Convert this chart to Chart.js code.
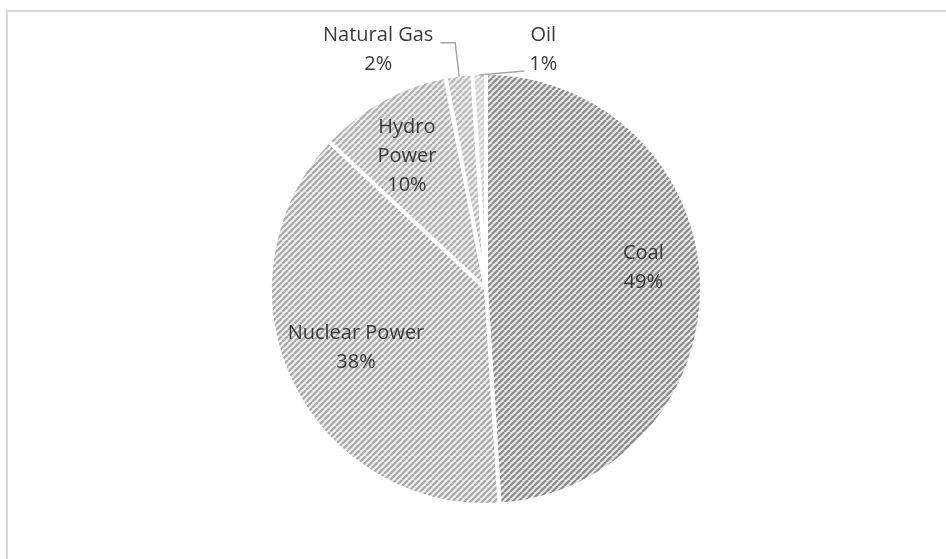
<!DOCTYPE html>
<html>
<head>
<meta charset="utf-8">
<title>Electricity generation by source</title>
<script src="https://cdn.jsdelivr.net/npm/chart.js@4.4.1/dist/chart.umd.min.js"></script>
<style>
    html, body { margin: 0; padding: 0; background: #fff; overflow: hidden; }
    #frame {
        position: absolute; left: 6px; top: 10px;
        width: 1000px; height: 1000px;
        border-left: 2px solid #d9d9d9; border-top: 2px solid #d9d9d9;
    }
    #chart { position: absolute; left: 0; top: 0; }
</style>
</head>
<body>
<div id="frame"></div>
<canvas id="chart" width="946" height="559"></canvas>
<script>
// --- DATA ---
const categories = ['Coal', 'Nuclear Power', 'Hydro Power', 'Natural Gas', 'Oil'];
const shares = [49, 38, 10, 2, 1];

// stripe colours per slice: [stripe, background]
const stripeColors = [
    ['#8e8e8e', '#ececec'],
    ['#ababab', '#f3f3f3'],
    ['#b3b3b3', '#f0f0f0'],
    ['#bababa', '#f1f1f1'],
    ['#cfcfcf', '#efefef']
];

// label placement around each slice (inside ones by radius fraction, outside ones with leader lines)
const labelLayout = [
    { r: 0.735, shift: -6 },
    { r: 0.66, shift: 1 },
    { r: 0.715, shift: -2, wrap: true },
    { outside: true, dx: -81, dy: -27, leader: 'up' },
    { outside: true, dx: 64, dy: -25, leader: 'side' }
];

// --- PATTERNS ---
function makeStripes(fg, bg, period) {
    const c = document.createElement('canvas');
    c.width = period;
    c.height = period;
    const g = c.getContext('2d');
    g.fillStyle = bg;
    g.fillRect(0, 0, period, period);
    g.strokeStyle = fg;
    g.lineWidth = period * 0.4;
    [-period, 0, period].forEach(off => {
        g.beginPath();
        g.moveTo(off, period);
        g.lineTo(off + period, 0);
        g.stroke();
    });
    return g.createPattern(c, 'repeat');
}

// --- LABELS ---
const sliceLabels = {
    id: 'sliceLabels',
    afterDatasetsDraw(chart) {
        const ctx = chart.ctx;
        const meta = chart.getDatasetMeta(0);
        const lineH = 29;
        ctx.save();
        ctx.font = '20px "Open Sans"';
        ctx.fillStyle = '#3a3a3a';
        ctx.textAlign = 'center';
        ctx.textBaseline = 'middle';

        meta.data.forEach((arc, i) => {
            const p = arc.getProps(['x', 'y', 'startAngle', 'endAngle', 'outerRadius'], true);
            const lay = labelLayout[i];
            const mid = (p.startAngle + p.endAngle) / 2 + (lay.shift || 0) * Math.PI / 180;
            const name = categories[i];
            const lines = (lay.wrap ? name.split(' ') : [name]).concat([shares[i] + '%']);
            let lx, ly;

            if (!lay.outside) {
                lx = p.x + Math.cos(mid) * p.outerRadius * lay.r;
                ly = p.y + Math.sin(mid) * p.outerRadius * lay.r;
            } else {
                const r = p.outerRadius - 2;
                const ex = p.x + Math.cos(mid) * r;
                const ey = p.y + Math.sin(mid) * r;
                lx = ex + lay.dx;
                ly = ey + lay.dy;
                const half = Math.max(...lines.map(t => ctx.measureText(t).width)) / 2;

                ctx.save();
                ctx.strokeStyle = '#a6a6a6';
                ctx.lineWidth = 1.5;
                ctx.beginPath();
                ctx.moveTo(ex, ey);
                if (lay.leader === 'up') {
                    ctx.lineTo(ex - 4, ly - 7);
                    ctx.lineTo(lx + half + 7, ly - 7);
                } else {
                    ctx.lineTo(lx - half - 5, ly + 21);
                }
                ctx.stroke();
                ctx.restore();
            }

            lines.forEach((t, k) => {
                ctx.fillText(t, lx, ly + (k - (lines.length - 1) / 2) * lineH);
            });
        });
        ctx.restore();
    }
};

// --- CHART ---
const canvas = document.getElementById('chart');
const ctx = canvas.getContext('2d');

new Chart(ctx, {
    type: 'pie',
    data: {
        labels: categories,
        datasets: [{
            data: shares,
            backgroundColor: stripeColors.map(c => makeStripes(c[0], c[1], 6)),
            borderColor: '#ffffff',
            borderWidth: 4,
            radius: 216
        }]
    },
    options: {
        responsive: false,
        animation: false,
        layout: { padding: { left: 26, right: 0, top: 19, bottom: 0 } },
        plugins: {
            legend: { display: false },
            tooltip: { enabled: false }
        }
    },
    plugins: [sliceLabels]
});
</script>
</body>
</html>
